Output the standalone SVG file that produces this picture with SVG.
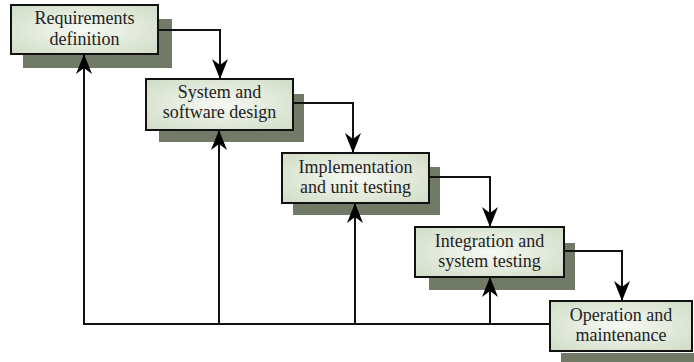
<svg xmlns="http://www.w3.org/2000/svg" width="694" height="362" viewBox="0 0 694 362">
<style>
.shadow{fill:#707a66;}
.box{fill:url(#g);stroke:#111;stroke-width:2;}
.lbl{font-family:"Liberation Serif","Times New Roman",serif;font-size:18px;fill:#222;text-anchor:middle;}
.conn{fill:none;stroke:#111;stroke-width:2;}
</style>
<defs>
<radialGradient id="g" cx="50%" cy="50%" r="70%">
<stop offset="0" stop-color="#f7f9f4"/>
<stop offset="1" stop-color="#cfdcc5"/>
</radialGradient>
<marker id="ah" markerUnits="userSpaceOnUse" markerWidth="22" markerHeight="18" refX="20" refY="8" orient="auto">
<path d="M0,0 L20,8 L0,16 L6,8 Z" fill="#000"/>
</marker>
</defs>
<rect width="694" height="362" fill="#fff"/>
<g id="req">
<rect class="shadow" x="23" y="19" width="149" height="49"/>
<rect class="box" x="11" y="5" width="147" height="49"/>
<text class="lbl" x="84.5" y="24">Requirements</text>
<text class="lbl" x="84.5" y="45">definition</text>
</g>
<g id="design">
<rect class="shadow" x="159" y="94" width="145" height="48"/>
<rect class="box" x="146" y="79" width="147" height="51"/>
<text class="lbl" x="219.5" y="98">System and</text>
<text class="lbl" x="219.5" y="118">software design</text>
</g>
<g id="impl">
<rect class="shadow" x="293" y="167" width="147" height="48"/>
<rect class="box" x="282" y="153" width="147" height="50"/>
<text class="lbl" x="355.5" y="173">Implementation</text>
<text class="lbl" x="355.5" y="193">and unit testing</text>
</g>
<g id="integ">
<rect class="shadow" x="429" y="243" width="146" height="47"/>
<rect class="box" x="415" y="227" width="149" height="50"/>
<text class="lbl" x="489.5" y="247">Integration and</text>
<text class="lbl" x="489.5" y="267">system testing</text>
</g>
<g id="ops">
<rect class="shadow" x="561" y="353" width="133" height="9"/>
<rect class="box" x="550" y="301" width="142" height="50"/>
<text class="lbl" x="621" y="321">Operation and</text>
<text class="lbl" x="621" y="341">maintenance</text>
</g>
<g id="connectors">
<path class="conn" d="M158,30 H220 V79" marker-end="url(#ah)"/>
<path class="conn" d="M293,103 H353 V153" marker-end="url(#ah)"/>
<path class="conn" d="M429,177 H490 V227" marker-end="url(#ah)"/>
<path class="conn" d="M564,251 H622 V301" marker-end="url(#ah)"/>
<path class="conn" d="M550,324 H84 V54" marker-end="url(#ah)"/>
<path class="conn" d="M219,324 V130" marker-end="url(#ah)"/>
<path class="conn" d="M355,324 V203" marker-end="url(#ah)"/>
<path class="conn" d="M490,324 V277" marker-end="url(#ah)"/>
</g>
</svg>
